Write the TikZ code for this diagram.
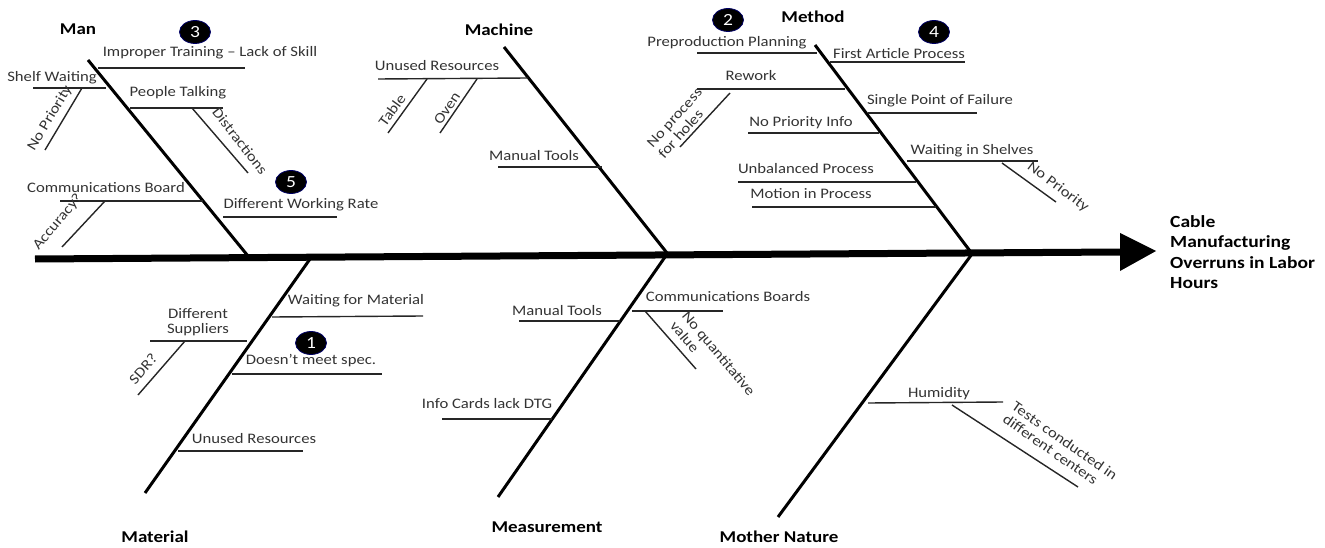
\documentclass[tikz,border=0pt]{standalone}
\usepackage{fontspec}
\setmainfont{Carlito}[FakeStretch=1.15]
\usetikzlibrary{shapes.geometric}
\begin{document}
\begin{tikzpicture}[x=1pt,y=-1pt,
 txt/.style={font=\fontsize{14.5}{15.5}\selectfont, text=black!80, inner sep=0pt},
 cat/.style={font=\fontsize{16.5}{18}\selectfont\bfseries, inner sep=0pt},
 bone/.style={line width=3pt},
 br/.style={line width=1.4pt, black!85},
 numc/.style={ellipse, fill=black, draw=blue!40!black, line width=0.8pt, text=white, minimum width=31pt, minimum height=23pt, inner sep=0pt, font=\fontsize{17}{18}\selectfont}]
\useasboundingbox (0,0) rectangle (1325,548);
% spine
\coordinate (tail) at (35,259);
\coordinate (head) at (1120,252);
\draw[line width=7pt] (tail) -- (head);
\fill (1120,233) -- (1156,251) -- (1120,271) -- cycle;
\node[cat, anchor=west, align=left, font=\fontsize{17}{20.5}\selectfont\bfseries] (effect) at (1170,252) {Cable\\Manufacturing\\Overruns in Labor\\Hours};
% bones
\coordinate (manT) at (88,60);   \coordinate (manB) at (248,256);
\coordinate (macT) at (504,47);  \coordinate (macB) at (667,253);
\coordinate (metT) at (815,45);  \coordinate (metB) at (970,251);
\coordinate (matB) at (145,493); \coordinate (matT) at (310,259);
\coordinate (meaB) at (498,497); \coordinate (meaT) at (665,257);
\coordinate (monB) at (778,517); \coordinate (monT) at (972,254);
\draw[bone] (manT) -- (manB);
\draw[bone] (macT) -- (macB);
\draw[bone] (metT) -- (metB);
\draw[bone] (matB) -- (matT);
\draw[bone] (meaB) -- (meaT);
\draw[bone] (monB) -- (monT);
% category labels
\node[cat] (man) at (78,29) {Man};
\node[cat] (machine) at (499,30) {Machine};
\node[cat] (method) at (813,17) {Method};
\node[cat] (material) at (155,537) {Material};
\node[cat] (measure) at (547,527) {Measurement};
\node[cat] (mother) at (779,537) {Mother Nature};
% numbered markers
\node[numc] (n3) at (195,32) {3};
\node[numc] (n5) at (291,182) {5};
\node[numc] (n2) at (728,20) {2};
\node[numc] (n4) at (934,32) {4};
\node[numc] (n1) at (311,343) {1};
% ---- Man
\node[txt] (m1) at (210,53) {Improper Training – Lack of Skill};
\draw[br] (98,68) -- (245,68);
\node[txt] (m2) at (52,78) {Shelf Waiting};
\draw[br] (33,88) -- (106,88);
\draw[br] (82,88) -- (45,150);
\node[txt, rotate=59] (m2a) at (50,118) {No Priority};
\node[txt] (m3) at (178,93) {People Talking};
\draw[br] (130,108) -- (223,108);
\draw[br] (192,108) -- (248,173);
\node[txt, rotate=-52] (m3a) at (240,141) {Distractions};
\node[txt] (m4) at (106,188) {Communications Board};
\draw[br] (60,201) -- (203,201);
\draw[br] (105,201) -- (62,247);
\node[txt, rotate=50] (m4a) at (58,222) {Accuracy?};
\node[txt] (m5) at (301,205) {Different Working Rate};
\draw[br] (223,217) -- (337,217);
% ---- Machine
\node[txt] (c1) at (437,66) {Unused Resources};
\draw[br] (378,79) -- (528,78);
\draw[br] (427,79) -- (388,133);
\node[txt, rotate=54] (c1a) at (392,110) {Table};
\draw[br] (477,79) -- (440,133);
\node[txt, rotate=56] (c1b) at (447,108) {Oven};
\node[txt] (c2) at (534,156) {Manual Tools};
\draw[br] (498,167) -- (602,167);
% ---- Method
\node[txt] (t1) at (727,43) {Preproduction Planning};
\draw[br] (697,53) -- (817,53);
\node[txt] (t2) at (899,54) {First Article Process};
\draw[br] (830,62) -- (965,62);
\node[txt] (t3) at (751,76) {Rework};
\draw[br] (697,89) -- (845,89);
\draw[br] (730,93) -- (680,147);
\node[txt, rotate=48, align=left, anchor=west] (t3a) at (655,151) {No process\\for holes};
\node[txt] (t4) at (940,101) {Single Point of Failure};
\draw[br] (868,113) -- (977,113);
\node[txt] (t5) at (801,123) {No Priority Info};
\draw[br] (748,133) -- (879,133);
\node[txt] (t6) at (972,151) {Waiting in Shelves};
\draw[br] (907,161) -- (1038,161);
\draw[br] (1002,163) -- (1056,202);
\node[txt, rotate=-37] (t6a) at (1058,187) {No Priority};
\node[txt] (t7) at (806,169) {Unbalanced Process};
\draw[br] (738,182) -- (916,182);
\node[txt] (t8) at (811,194) {Motion in Process};
\draw[br] (752,207) -- (936,207);
% ---- Material
\node[txt] (a1) at (356,301) {Waiting for Material};
\draw[br] (272,317) -- (423,316);
\node[txt, align=center] (a2) at (198,322) {Different\\Suppliers};
\draw[br] (150,341) -- (247,341);
\draw[br] (185,341) -- (138,395);
\node[txt, rotate=49] (a2a) at (143,369) {SDR?};
\node[txt] (a3) at (311,361) {Doesn’t meet spec.};
\draw[br] (232,374) -- (382,374);
\node[txt] (a4) at (254,439) {Unused Resources};
\draw[br] (178,451) -- (303,451);
% ---- Measurement
\node[txt] (e1) at (557,311) {Manual Tools};
\draw[br] (519,321) -- (620,321);
\node[txt] (e2) at (728,297) {Communications Boards};
\draw[br] (632,311) -- (723,311);
\draw[br] (645,311) -- (696,369);
\node[txt, rotate=-50, align=left, anchor=west] (e2a) at (679,318) {No quantitative\\value};
\node[txt] (e3) at (487,404) {Info Cards lack DTG};
\draw[br] (442,419) -- (552,419);
% ---- Mother Nature
\node[txt] (o1) at (939,394) {Humidity};
\draw[br] (868,403) -- (1003,402);
\draw[br] (952,405) -- (1078,487);
\node[txt, rotate=-35, align=left, anchor=west] (o1a) at (1009,411) {Tests conducted in\\different centers};
\end{tikzpicture}
\end{document}
